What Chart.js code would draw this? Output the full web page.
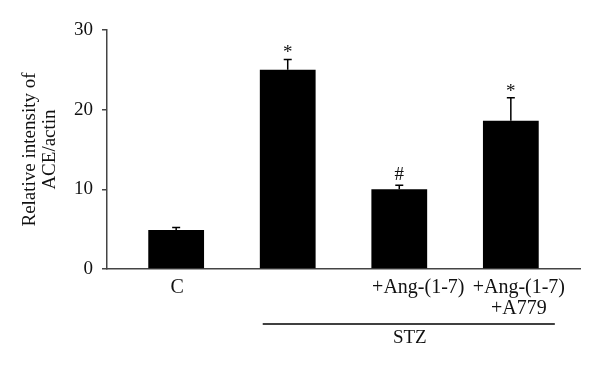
<!DOCTYPE html>
<html>
<head>
<meta charset="utf-8">
<script src="https://cdn.jsdelivr.net/npm/chart.js@4/dist/chart.umd.min.js"></script>
<style>
  html, body { margin: 0; padding: 0; background: #fff; }
  #wrap { width: 600px; height: 372px; }
</style>
</head>
<body>
<div id="wrap"><canvas id="chartAce"></canvas></div>
<script>
// values
const groups = ["C", "STZ", "STZ+Ang-(1-7)", "STZ+Ang-(1-7)+A779"];
const groupLabels = [["C"], [], ["+Ang-(1-7)"], ["+Ang-(1-7)", "+A779"]];
const means = [4.9, 25.0, 10.0, 18.6];
const errors = [0.3, 1.3, 0.5, 2.9];
const marks = ["", "*", "#", "*"];
const yTicks = [0, 10, 20, 30];
const bracketLabel = "STZ";

const FONT = "Liberation Serif, Times New Roman, serif";
const AXIS = "#444";
const INK = "#111";

// label nudges relative to bar centre, as in the source figure
const labelShift = [1, 0, 19, 8];

const annotatePlugin = {
  id: "aceAnnotate",
  afterDatasetsDraw(chart) {
    const { ctx } = chart;
    const x = chart.scales.x;
    const y = chart.scales.y;
    ctx.save();

    // error bars (upper only) and significance marks
    ctx.strokeStyle = "#000";
    ctx.lineWidth = 1.5;
    means.forEach((m, i) => {
      const cx = x.getPixelForValue(i);
      const yTop = y.getPixelForValue(m + errors[i]);
      const yBar = y.getPixelForValue(m);
      ctx.beginPath();
      ctx.moveTo(cx, yBar);
      ctx.lineTo(cx, yTop);
      ctx.moveTo(cx - 4, yTop);
      ctx.lineTo(cx + 4, yTop);
      ctx.stroke();

      if (marks[i]) {
        ctx.fillStyle = INK;
        ctx.font = "19px " + FONT;
        ctx.textAlign = "center";
        ctx.textBaseline = "alphabetic";
        ctx.fillText(marks[i], cx, yTop - (marks[i] === "#" ? 5 : 1));
      }
    });

    // group labels under the axis
    ctx.fillStyle = INK;
    ctx.font = "20px " + FONT;
    ctx.textAlign = "center";
    ctx.textBaseline = "alphabetic";
    const base = y.getPixelForValue(0);
    groupLabels.forEach((lines, i) => {
      const cx = x.getPixelForValue(i) + labelShift[i];
      lines.forEach((line, k) => {
        ctx.fillText(line, cx, base + 24 + k * 21);
      });
    });

    // STZ bracket
    const x0 = x.getPixelForValue(1) - 25;
    const x1 = x.getPixelForValue(3) + 44;
    ctx.strokeStyle = "#000";
    ctx.lineWidth = 1.5;
    ctx.beginPath();
    ctx.moveTo(x0, base + 55);
    ctx.lineTo(x1, base + 55);
    ctx.stroke();
    ctx.font = "19px " + FONT;
    ctx.fillText(bracketLabel, (x0 + x1) / 2 + 1, base + 74);

    ctx.restore();
  }
};

new Chart(document.getElementById("chartAce"), {
  type: "bar",
  data: {
    datasets: [{
      label: "ACE/actin",
      data: means.map((v, i) => ({ x: i, y: v })),
      backgroundColor: "#000",
      borderWidth: 0,
      barPercentage: 0.5,
      categoryPercentage: 1
    }]
  },
  options: {
    responsive: true,
    maintainAspectRatio: false,
    animation: false,
    events: [],
    layout: { padding: { top: 30, right: 20, left: 0, bottom: 0 } },
    plugins: {
      legend: { display: false },
      tooltip: { enabled: false }
    },
    scales: {
      x: {
        type: "linear",
        min: -0.62,
        max: 3.62,
        offset: false,
        afterBuildTicks(scale) { scale.ticks = groups.map((_, i) => ({ value: i })); },
        grid: { display: false, offset: false },
        border: { display: true, color: AXIS, width: 1.5 },
        ticks: { display: false },
        afterFit(scale) { scale.height = 103; }
      },
      y: {
        min: 0,
        max: 30,
        afterBuildTicks(scale) { scale.ticks = yTicks.map((v) => ({ value: v })); },
        grid: { drawOnChartArea: false, drawTicks: true, tickLength: 5, color: AXIS, lineWidth: 1.5 },
        border: { display: true, color: AXIS, width: 1.5 },
        ticks: {
          color: INK,
          padding: 9,
          font: { family: FONT, size: 19 }
        },
        title: {
          display: true,
          text: ["Relative intensity of", "ACE/actin"],
          color: INK,
          padding: { top: 20, bottom: 0 },
          font: { family: FONT, size: 19, lineHeight: 1.05 }
        },
        afterFit(scale) { scale.width = 107; }
      }
    }
  },
  plugins: [annotatePlugin]
});
</script>
</body>
</html>
